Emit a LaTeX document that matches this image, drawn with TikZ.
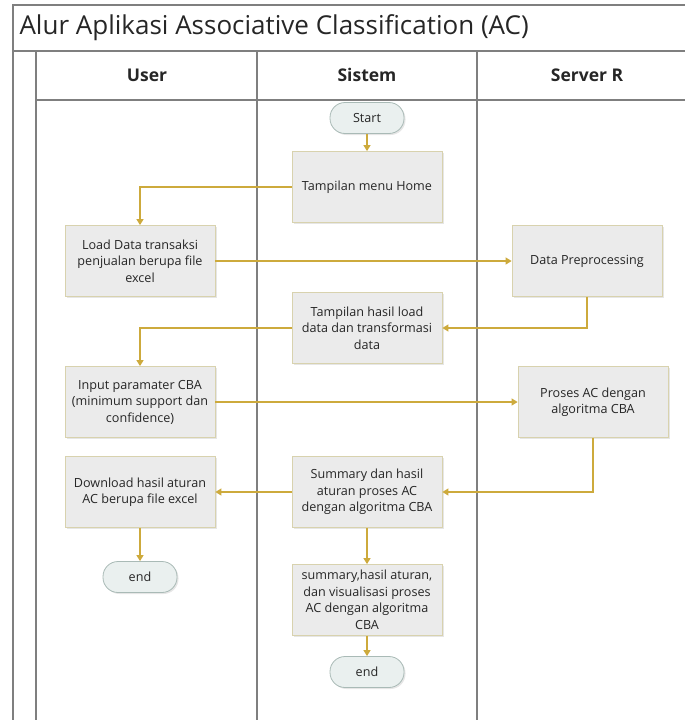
\documentclass[tikz,border=0pt]{standalone}
\usepackage{fontspec}
\setmainfont{Open Sans}
\usetikzlibrary{positioning, shapes.geometric, arrows.meta, shadows}
\definecolor{boxfill}{HTML}{EBEBEB}
\definecolor{boxline}{HTML}{D8D2AE}
\definecolor{termfill}{HTML}{EAF0EF}
\definecolor{termline}{HTML}{A9BAB6}
\definecolor{flowline}{HTML}{CDAA3C}
\definecolor{laneline}{HTML}{7F7F7F}
\begin{document}
\begin{tikzpicture}[x=1pt, y=-1pt,
  every node/.style={align=center, text=black!85, font=\fontsize{12.6}{16.5}\selectfont},
  proc/.style={draw=boxline, fill=boxfill, line width=0.8pt, minimum width=150pt, minimum height=71pt,
    drop shadow={opacity=0.2, shadow xshift=1.5pt, shadow yshift=-1.5pt}},
  term/.style={draw=termline, fill=termfill, line width=0.8pt, rounded corners=15pt, minimum width=74pt, minimum height=31pt,
    drop shadow={opacity=0.2, shadow xshift=1.5pt, shadow yshift=-1.5pt}},
  flow/.style={draw=flowline, line width=1.2pt, -{Triangle[width=7pt, length=6pt]}},
  lane/.style={draw=laneline, line width=1.5pt},
  head/.style={font=\fontsize{17.5}{20}\selectfont\bfseries}]
\useasboundingbox (0,0) rectangle (685,720);
\draw[lane] (13,5) rectangle (700,51);
\draw[lane] (13,51) rectangle (36,730);
\draw[lane] (36,51) rectangle (700,100);
\draw[lane] (257,51) -- (257,730);
\draw[lane] (477,51) -- (477,730);
\node[anchor=west, font=\fontsize{26}{30}\selectfont] (title) at (16,28) {Alur Aplikasi Associative Classification (AC)};
\node[head] (user) at (147,75) {User};
\node[head] (sistem) at (367,75) {Sistem};
\node[head] (server) at (587,75) {Server R};

\node[term] (start) at (367,118) {Start};
\node[proc] (home) at (367,187) {Tampilan menu Home};
\node[proc] (load) at (140,261) {Load Data transaksi\\penjualan berupa file\\excel};
\node[proc] (prep) at (587,261) {Data Preprocessing};
\node[proc] (hasil) at (367,328) {Tampilan hasil load\\data dan transformasi\\data};
\node[proc] (input) at (140,402) {Input paramater CBA\\(minimum support dan\\confidence)};
\node[proc] (proses) at (593,402) {Proses AC dengan\\algoritma CBA};
\node[proc] (summ) at (367,492) {Summary dan hasil\\aturan proses AC\\dengan algoritma CBA};
\node[proc] (down) at (140,492) {Download hasil aturan\\AC berupa file excel};
\node[term] (end1) at (140,577) {end};
\node[proc] (visual) at (367,600) {summary,hasil aturan,\\dan visualisasi proses\\AC dengan algoritma\\CBA};
\node[term] (end2) at (367,672) {end};

\draw[flow] (start) -- (home);
\draw[flow] (home.west) -| (load.north);
\draw[flow] (load) -- (prep);
\draw[flow] (prep.south) |- (hasil.east);
\draw[flow] (hasil.west) -| (input.north);
\draw[flow] (input) -- (proses);
\draw[flow] (proses.south) |- (summ.east);
\draw[flow] (summ) -- (down);
\draw[flow] (down) -- (end1);
\draw[flow] (summ) -- (visual);
\draw[flow] (visual) -- (end2);
\end{tikzpicture}
\end{document}
